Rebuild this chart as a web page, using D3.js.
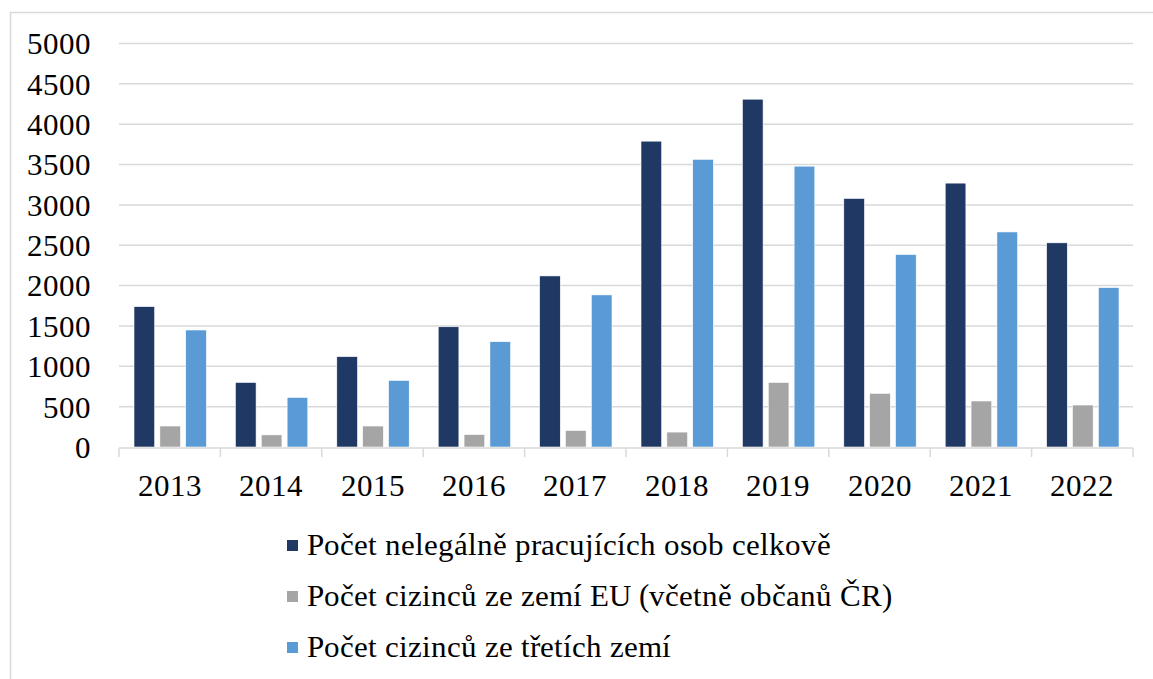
<!DOCTYPE html>
<html>
<head>
<meta charset="utf-8">
<script src="https://cdn.jsdelivr.net/npm/d3@7/dist/d3.min.js"></script>
<style>
  @font-face { font-family: 'ChartSerif'; src: local('Liberation Serif'), local('LiberationSerif'), local('Tinos'); }
  svg text { font-family: 'ChartSerif', 'Liberation Serif', Tinos, serif !important; }
</style>
</head>
<body style="margin:0">
<svg id="fig" width="1153" height="679"></svg>
<script>
const years = ['2013', '2014', '2015', '2016', '2017', '2018', '2019', '2020', '2021', '2022'];
const seriesNames = [
  'Počet nelegálně pracujících osob celkově',
  'Počet cizinců ze zemí EU (včetně občanů ČR)',
  'Počet cizinců ze třetích zemí'
];
const totalWorkers = [1740, 800, 1120, 1490, 2120, 3790, 4310, 3080, 3270, 2530];
const euWorkers = [260, 150, 260, 155, 205, 185, 800, 665, 570, 520];
const thirdCountryWorkers = [1450, 615, 825, 1305, 1885, 3565, 3480, 2385, 2665, 1975];
const yTicks = [0, 500, 1000, 1500, 2000, 2500, 3000, 3500, 4000, 4500, 5000];
const colors = ['#203864', '#a5a5a5', '#5b9bd5'];

const series = [totalWorkers, euWorkers, thirdCountryWorkers];

const svg = d3.select('#fig');

// plot area
const margin = { top: 43.5, left: 119, bottom: 447 };
const plotRight = 1133;

// outer frame (runs off the right and bottom edge)
svg.append('rect')
  .attr('x', 10.5).attr('y', 12.5)
  .attr('width', 1160).attr('height', 700)
  .attr('fill', 'none').attr('stroke', '#d9d9d9').attr('stroke-width', 1.5);

const x = d3.scaleBand()
  .domain(years)
  .range([margin.left, plotRight]);

const xInner = d3.scaleBand()
  .domain(d3.range(series.length))
  .range([15, x.bandwidth() - 14])
  .paddingInner(0.2);

const y = d3.scaleLinear()
  .domain([0, 5000])
  .range([margin.bottom, margin.top]);

// gridlines
svg.append('g')
  .selectAll('line')
  .data(yTicks.filter(d => d > 0))
  .join('line')
  .attr('x1', margin.left).attr('x2', plotRight)
  .attr('y1', d => y(d)).attr('y2', d => y(d))
  .attr('stroke', '#d9d9d9').attr('stroke-width', 1.5);

// bars
const groups = svg.append('g')
  .selectAll('g')
  .data(years)
  .join('g')
  .attr('transform', d => `translate(${x(d)},0)`);

groups.selectAll('rect')
  .data((yr, i) => series.map((s, k) => ({ k, v: s[i] })))
  .join('rect')
  .attr('x', d => xInner(d.k))
  .attr('width', xInner.bandwidth())
  .attr('y', d => y(d.v))
  .attr('height', d => y(0) - y(d.v))
  .attr('fill', d => colors[d.k])
  .attr('stroke', '#fff').attr('stroke-width', 0.6);

// x axis
const xAxis = svg.append('g')
  .attr('transform', `translate(0,${y(0) + 1})`);
xAxis.append('line')
  .attr('x1', margin.left).attr('x2', plotRight)
  .attr('stroke', '#d9d9d9').attr('stroke-width', 1.5);
xAxis.selectAll('.tk')
  .data(years.map(d => x(d)).concat([plotRight]))
  .join('line')
  .attr('class', 'tk')
  .attr('x1', d => d).attr('x2', d => d)
  .attr('y1', 0).attr('y2', 9)
  .attr('stroke', '#d9d9d9').attr('stroke-width', 1.5);
xAxis.selectAll('text')
  .data(years)
  .join('text')
  .attr('x', d => x(d) + x.bandwidth() / 2)
  .attr('y', 48)
  .attr('text-anchor', 'middle')
  .style('font-size', '31px')
  .attr('fill', '#000')
  .text(d => d);

// y axis labels
svg.append('g')
  .selectAll('text')
  .data(yTicks)
  .join('text')
  .attr('x', 91)
  .attr('y', d => y(d))
  .attr('dy', '0.35em')
  .attr('text-anchor', 'end')
  .style('font-size', '31px')
  .attr('fill', '#000')
  .text(d => d);

// legend
const legend = svg.append('g')
  .attr('transform', 'translate(287,554.5)');
const items = legend.selectAll('g')
  .data(seriesNames)
  .join('g')
  .attr('transform', (d, i) => `translate(0,${i * 51})`);
items.append('rect')
  .attr('x', 0).attr('y', -14.5)
  .attr('width', 11).attr('height', 11)
  .attr('fill', (d, i) => colors[i]);
items.append('text')
  .attr('x', 20)
  .attr('y', 0)
  .style('font-size', '31px')
  .attr('fill', '#000')
  .text(d => d);
</script>
</body>
</html>
